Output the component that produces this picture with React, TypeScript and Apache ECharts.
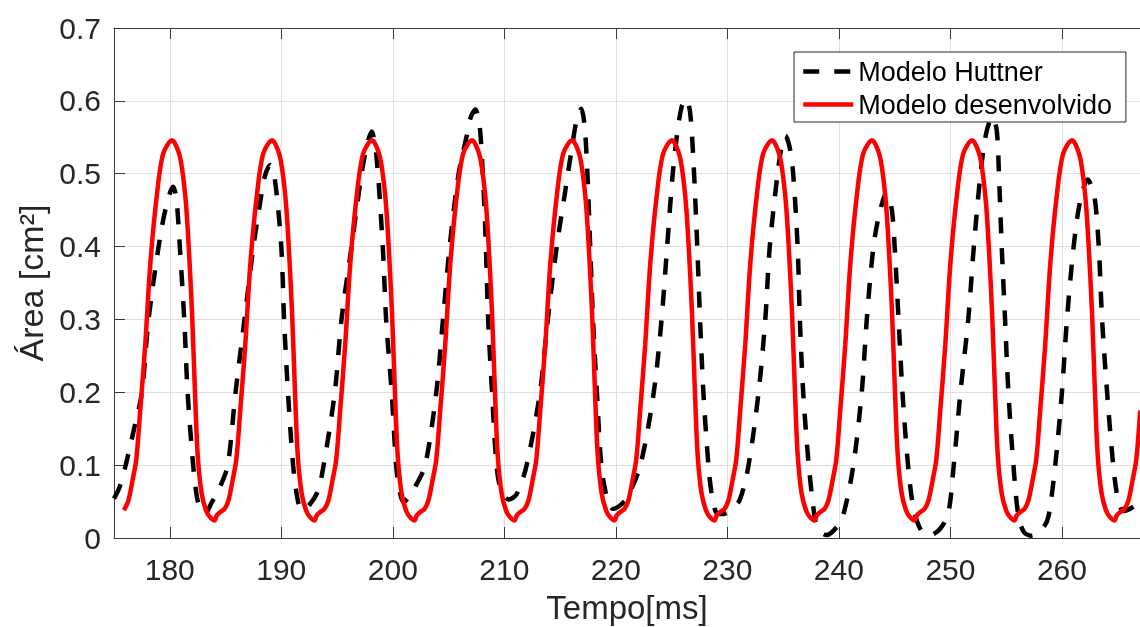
import React, { useEffect, useRef } from "react";
import * as echarts from "echarts";

const xRange = [175, 267];
const yRange = [0, 0.7];
const yStep = 0.1;
const xLabel = "Tempo[ms]";
const yLabel = "Área [cm²]";
const seriesNames = ["Modelo Huttner", "Modelo desenvolvido"];

// Modelo Huttner (dashed black): [tempo ms, área cm²]
const huttner = [
  [175.0, 0.054], [175.5, 0.07], [176.05, 0.1], [176.8, 0.15], [177.5, 0.2], [178.1, 0.3], [179.0, 0.4], [179.6, 0.45], [180.3, 0.482], [180.6, 0.465], [180.9, 0.4], [181.3, 0.3], [181.6, 0.2], [182.1, 0.1], [182.45, 0.055], [182.85, 0.036], [183.2, 0.034], [183.7, 0.047],
  [184.5, 0.07], [185.2, 0.1], [185.9, 0.2], [186.7, 0.3], [187.5, 0.4], [188.1, 0.46], [188.5, 0.495], [189.0, 0.512], [189.4, 0.495], [190.0, 0.4], [190.25, 0.3], [190.6, 0.2], [191.06, 0.1], [191.5, 0.05], [191.9, 0.038], [192.6, 0.047],
  [193.3, 0.065], [193.8, 0.1], [194.8, 0.2], [195.4, 0.3], [196.3, 0.4], [197.2, 0.5], [197.7, 0.54], [198.1, 0.558], [198.5, 0.53], [199.1, 0.4], [199.4, 0.3], [199.9, 0.2], [200.3, 0.1], [200.6, 0.065], [200.95, 0.049],
  [201.5, 0.058], [202.0, 0.07], [202.9, 0.1], [203.9, 0.2], [204.5, 0.3], [205.1, 0.4], [205.9, 0.5], [206.6, 0.55], [207.0, 0.578], [207.4, 0.588], [207.75, 0.57], [208.0, 0.52], [208.3, 0.42], [208.55, 0.3], [208.9, 0.2], [209.3, 0.1], [209.7, 0.066], [210.4, 0.053],
  [211.1, 0.06], [212.0, 0.1], [213.2, 0.2], [213.9, 0.3], [214.7, 0.4], [215.4, 0.47], [215.9, 0.52], [216.5, 0.575], [216.9, 0.589], [217.2, 0.565], [217.45, 0.5], [217.7, 0.4], [217.95, 0.3], [218.3, 0.2], [218.7, 0.1], [219.2, 0.055], [219.75, 0.04],
  [220.4, 0.045], [221.0, 0.055], [222.2, 0.1], [223.4, 0.2], [224.1, 0.3], [224.6, 0.4], [225.1, 0.5], [225.5, 0.555], [225.9, 0.592], [226.3, 0.603], [226.65, 0.585], [226.95, 0.52], [227.3, 0.4], [227.55, 0.3], [227.85, 0.2], [228.3, 0.1], [228.6, 0.06], [229.05, 0.034],
  [229.6, 0.033], [230.2, 0.037], [231.1, 0.052], [231.9, 0.1], [232.8, 0.2], [233.4, 0.3], [233.8, 0.4], [234.5, 0.5], [234.9, 0.54], [235.2, 0.552], [235.6, 0.535], [235.9, 0.5], [236.3, 0.4], [236.5, 0.3], [236.8, 0.2], [237.3, 0.1], [237.9, 0.022], [238.3, 0.009], [238.9, 0.004],
  [239.8, 0.015], [240.4, 0.032], [241.3, 0.1], [242.05, 0.2], [242.5, 0.3], [243.1, 0.4], [243.7, 0.45], [244.3, 0.475], [244.75, 0.45], [245.0, 0.4], [245.35, 0.3], [245.7, 0.2], [246.2, 0.1], [246.7, 0.04], [247.4, 0.01], [248.2, 0.004],
  [249.1, 0.013], [249.8, 0.033], [250.3, 0.1], [250.9, 0.2], [251.6, 0.3], [252.1, 0.4], [252.7, 0.5], [253.2, 0.555], [253.75, 0.578], [254.15, 0.56], [254.35, 0.5], [254.6, 0.4], [254.9, 0.3], [255.2, 0.2], [255.65, 0.1], [256.1, 0.03], [256.6, 0.008], [257.3, 0.003],
  [258.35, 0.015], [258.8, 0.03], [259.4, 0.1], [260.0, 0.2], [260.45, 0.3], [261.05, 0.4], [261.6, 0.46], [262.3, 0.492], [262.9, 0.47], [263.3, 0.4], [263.6, 0.3], [264.05, 0.2], [264.6, 0.1], [265.0, 0.055], [265.5, 0.037], [266.1, 0.04], [266.7, 0.046], [267.2, 0.05],
];

// Modelo desenvolvido (solid red): [tempo ms, área cm²]
const desenvolvido = [
  [175.9, 0.038], [176.3, 0.052], [176.65, 0.078], [177.0, 0.108], [177.35, 0.175], [177.8, 0.265], [178.25, 0.375], [178.8, 0.465], [179.4, 0.527], [180.2, 0.546], [180.9, 0.524], [181.4, 0.468], [181.7, 0.4], [182.0, 0.308], [182.25, 0.205], [182.5, 0.115], [182.85, 0.062], [183.3, 0.036], [183.7, 0.027],
  [184.02, 0.024], [184.22, 0.031], [184.57, 0.036], [184.92, 0.04], [185.27, 0.052], [185.62, 0.078], [185.97, 0.108], [186.32, 0.175], [186.77, 0.265], [187.22, 0.375], [187.77, 0.465], [188.37, 0.527], [189.17, 0.546], [189.87, 0.524], [190.37, 0.468], [190.67, 0.4], [190.97, 0.308], [191.22, 0.205], [191.47, 0.115], [191.82, 0.062], [192.27, 0.036], [192.67, 0.027],
  [192.98, 0.024], [193.18, 0.031], [193.53, 0.036], [193.88, 0.04], [194.23, 0.052], [194.58, 0.078], [194.93, 0.108], [195.28, 0.175], [195.73, 0.265], [196.18, 0.375], [196.73, 0.465], [197.33, 0.527], [198.13, 0.546], [198.83, 0.524], [199.33, 0.468], [199.63, 0.4], [199.93, 0.308], [200.18, 0.205], [200.43, 0.115], [200.78, 0.062], [201.23, 0.036], [201.63, 0.027],
  [201.95, 0.024], [202.15, 0.031], [202.5, 0.036], [202.85, 0.04], [203.2, 0.052], [203.55, 0.078], [203.9, 0.108], [204.25, 0.175], [204.7, 0.265], [205.15, 0.375], [205.7, 0.465], [206.3, 0.527], [207.1, 0.546], [207.8, 0.524], [208.3, 0.468], [208.6, 0.4], [208.9, 0.308], [209.15, 0.205], [209.4, 0.115], [209.75, 0.062], [210.2, 0.036], [210.6, 0.027],
  [210.92, 0.024], [211.12, 0.031], [211.47, 0.036], [211.82, 0.04], [212.17, 0.052], [212.52, 0.078], [212.87, 0.108], [213.22, 0.175], [213.67, 0.265], [214.12, 0.375], [214.67, 0.465], [215.27, 0.527], [216.07, 0.546], [216.77, 0.524], [217.27, 0.468], [217.57, 0.4], [217.87, 0.308], [218.12, 0.205], [218.37, 0.115], [218.72, 0.062], [219.17, 0.036], [219.57, 0.027],
  [219.88, 0.024], [220.08, 0.031], [220.43, 0.036], [220.78, 0.04], [221.13, 0.052], [221.48, 0.078], [221.83, 0.108], [222.18, 0.175], [222.63, 0.265], [223.08, 0.375], [223.63, 0.465], [224.23, 0.527], [225.03, 0.546], [225.73, 0.524], [226.23, 0.468], [226.53, 0.4], [226.83, 0.308], [227.08, 0.205], [227.33, 0.115], [227.68, 0.062], [228.13, 0.036], [228.53, 0.027],
  [228.85, 0.024], [229.05, 0.031], [229.4, 0.036], [229.75, 0.04], [230.1, 0.052], [230.45, 0.078], [230.8, 0.108], [231.15, 0.175], [231.6, 0.265], [232.05, 0.375], [232.6, 0.465], [233.2, 0.527], [234.0, 0.546], [234.7, 0.524], [235.2, 0.468], [235.5, 0.4], [235.8, 0.308], [236.05, 0.205], [236.3, 0.115], [236.65, 0.062], [237.1, 0.036], [237.5, 0.027],
  [237.82, 0.024], [238.02, 0.031], [238.37, 0.036], [238.72, 0.04], [239.07, 0.052], [239.42, 0.078], [239.77, 0.108], [240.12, 0.175], [240.57, 0.265], [241.02, 0.375], [241.57, 0.465], [242.17, 0.527], [242.97, 0.546], [243.67, 0.524], [244.17, 0.468], [244.47, 0.4], [244.77, 0.308], [245.02, 0.205], [245.27, 0.115], [245.62, 0.062], [246.07, 0.036], [246.47, 0.027],
  [246.79, 0.024], [246.99, 0.031], [247.34, 0.036], [247.69, 0.04], [248.04, 0.052], [248.39, 0.078], [248.74, 0.108], [249.09, 0.175], [249.54, 0.265], [249.99, 0.375], [250.54, 0.465], [251.14, 0.527], [251.94, 0.546], [252.64, 0.524], [253.14, 0.468], [253.44, 0.4], [253.74, 0.308], [253.99, 0.205], [254.24, 0.115], [254.59, 0.062], [255.04, 0.036], [255.44, 0.027],
  [255.75, 0.024], [255.95, 0.031], [256.3, 0.036], [256.65, 0.04], [257.0, 0.052], [257.35, 0.078], [257.7, 0.108], [258.05, 0.175], [258.5, 0.265], [258.95, 0.375], [259.5, 0.465], [260.1, 0.527], [260.9, 0.546], [261.6, 0.524], [262.1, 0.468], [262.4, 0.4], [262.7, 0.308], [262.95, 0.205], [263.2, 0.115], [263.55, 0.062], [264.0, 0.036], [264.4, 0.027],
  [264.72, 0.024], [264.92, 0.031], [265.27, 0.036], [265.62, 0.04], [265.97, 0.052], [266.32, 0.078], [266.67, 0.108], [267.02, 0.175],
];

const FONT = "'Liberation Sans', Arial, Helvetica, sans-serif";
const AXIS_COLOR = "#262626";

export default function App() {
  const ref = useRef<HTMLDivElement>(null);
  useEffect(() => {
    if (!ref.current) return;
    const chart = echarts.init(ref.current, null, { renderer: "svg" });
    const axisLine = { show: true, lineStyle: { color: "#3a3a3a", width: 1 } };
    const axisTick = { show: true, inside: true, length: 11, lineStyle: { color: "#3a3a3a", width: 1 } };
    chart.setOption({
      animation: false,
      textStyle: { fontFamily: FONT },
      grid: { left: 114, right: 0, top: 28, bottom: 89, containLabel: false, outerBoundsMode: "none" },
      legend: {
        data: seriesNames,
        orient: "vertical",
        left: 794,
        top: 52,
        itemWidth: 50,
        itemHeight: 14,
        itemGap: 6,
        padding: [6, 14, 4, 7],
        backgroundColor: "#ffffff",
        borderColor: AXIS_COLOR,
        borderWidth: 1,
        itemStyle: { opacity: 0 },
        lineStyle: { width: 4.5 },
        textStyle: { fontSize: 27, color: "#000000", fontFamily: FONT },
      },
      xAxis: [
        {
          type: "value",
          position: "bottom",
          min: xRange[0],
          max: xRange[1],
          splitNumber: 9,
          axisLine,
          axisTick,
          axisLabel: { fontSize: 30, color: AXIS_COLOR, margin: 16, showMinLabel: false, showMaxLabel: false, fontFamily: FONT },
          splitLine: { show: true, showMinLine: false, showMaxLine: false, lineStyle: { color: "#e0e0e0", width: 1 } },
          name: xLabel,
          nameLocation: "middle",
          nameGap: 53,
          nameTextStyle: { fontSize: 33, color: AXIS_COLOR, fontFamily: FONT },
        },
        {
          type: "value",
          position: "top",
          min: xRange[0],
          max: xRange[1],
          splitNumber: 9,
          axisLine,
          axisTick,
          axisLabel: { show: false },
          splitLine: { show: false },
        },
      ],
      yAxis: {
        type: "value",
        min: yRange[0],
        max: yRange[1],
        interval: yStep,
        axisLine,
        axisTick,
        axisLabel: { fontSize: 30, color: AXIS_COLOR, margin: 13, fontFamily: FONT },
        splitLine: { show: true, showMinLine: false, showMaxLine: false, lineStyle: { color: "#e0e0e0", width: 1 } },
        name: yLabel,
        nameLocation: "middle",
        nameGap: 62,
        nameTextStyle: { fontSize: 34, color: AXIS_COLOR, fontFamily: FONT },
      },
      series: [
        {
          name: seriesNames[0],
          type: "line",
          xAxisIndex: 0,
          data: huttner,
          symbol: "none",
          showSymbol: false,
          smooth: 0.3,
          lineStyle: { color: "#000000", width: 4.5, type: [16, 15] },
          itemStyle: { color: "#000000" },
          z: 2,
        },
        {
          name: seriesNames[1],
          type: "line",
          xAxisIndex: 0,
          data: desenvolvido,
          symbol: "none",
          showSymbol: false,
          smooth: 0.3,
          lineStyle: { color: "#ff0000", width: 4.5 },
          itemStyle: { color: "#ff0000" },
          z: 3,
        },
      ],
    });
    return () => chart.dispose();
  }, []);
  return <div ref={ref} style={{ position: "fixed", left: 0, top: 0, width: 1140, height: 627 }} />;
}
